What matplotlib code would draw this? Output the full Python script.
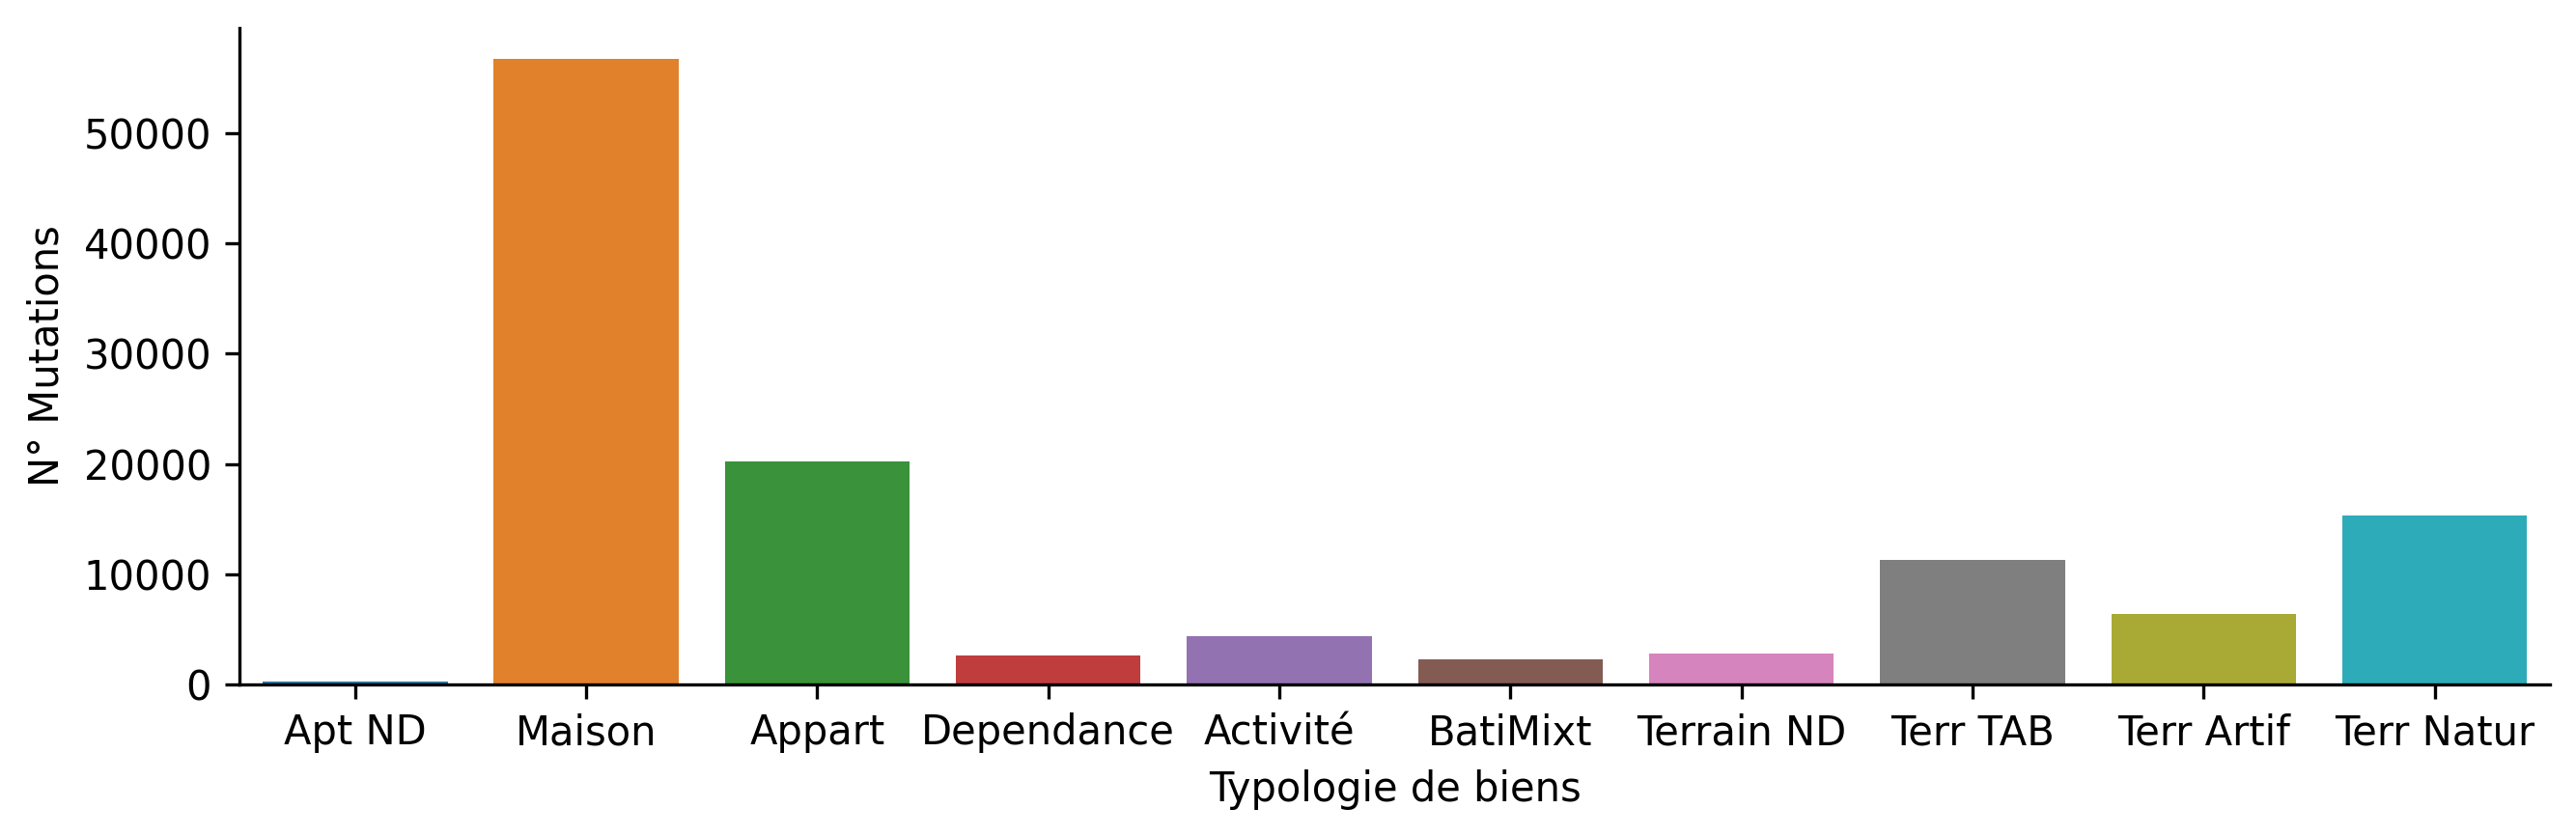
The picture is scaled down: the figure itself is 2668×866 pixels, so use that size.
import matplotlib
matplotlib.use("Agg")
import matplotlib.pyplot as plt
import seaborn as sns

# property types and number of sales
categories = ["Apt ND", "Maison", "Appart", "Dependance", "Activité",
              "BatiMixt", "Terrain ND", "Terr TAB", "Terr Artif", "Terr Natur"]
mutations = [280, 56700, 20200, 2630, 4390, 2280, 2810, 11320, 6400, 15340]

fig, ax = plt.subplots(figsize=(2668 / 300, 866 / 300), dpi=300)
fig.subplots_adjust(left=0.093, right=0.99, top=0.967, bottom=0.181)

sns.barplot(x=categories, y=mutations, hue=categories, palette="tab10",
            legend=False, ax=ax)
sns.despine(ax=ax)

ax.set_xlabel("Typologie de biens")
ax.set_ylabel("N° Mutations")

fig.savefig("out.png", dpi=300)
